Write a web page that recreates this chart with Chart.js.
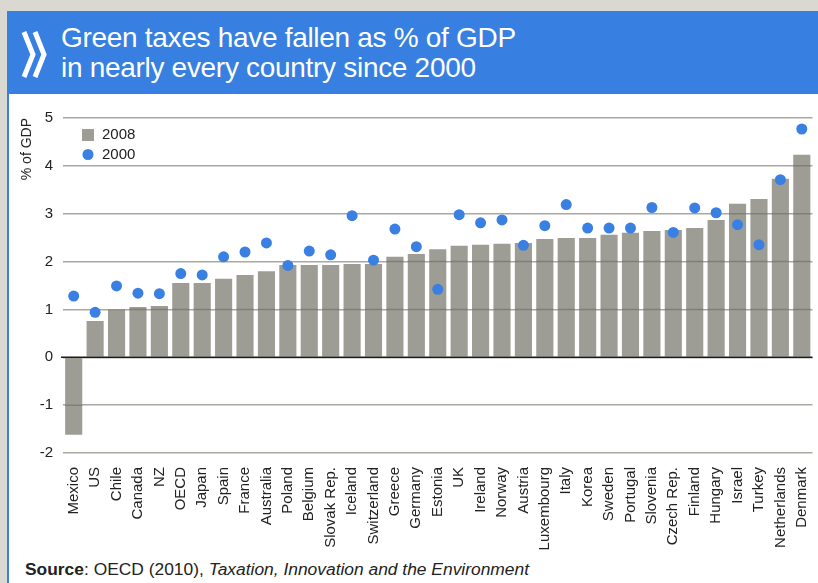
<!DOCTYPE html>
<html>
<head>
<meta charset="utf-8">
<script src="https://cdn.jsdelivr.net/npm/chart.js@4"></script>
<style>
  html, body { margin:0; padding:0; }
  body { width:818px; height:583px; background:#d9d9d1; position:relative; overflow:hidden; font-family:"Liberation Sans", Arial, sans-serif; }
  #panel { position:absolute; left:7px; top:94px; width:811px; height:489px; background:#fff; border-left:2px solid #3a80e2; box-sizing:border-box; }
  #header { position:absolute; left:7px; top:11px; width:811px; height:83px; background:#377fe0; }
  #header svg { position:absolute; left:0; top:0; }
  #title { position:absolute; left:54px; top:12px; color:#fff; font-size:28px; line-height:30px; letter-spacing:-0.3px; }
  #chartbox { position:absolute; left:9px; top:95px; width:809px; height:460px; }
  #source { position:absolute; left:25px; top:559px; font-size:17.4px; color:#222; white-space:nowrap; }
</style>
</head>
<body>
<div id="header">
  <svg width="60" height="83">
    <polyline points="17,21 26,43.5 17,66" fill="none" stroke="#fff" stroke-width="5" stroke-linejoin="miter"/>
    <polyline points="28,21 37,43.5 28,66" fill="none" stroke="#fff" stroke-width="5" stroke-linejoin="miter"/>
  </svg>
  <div id="title">Green taxes have fallen as % of GDP<br>in nearly every country since 2000</div>
</div>
<div id="panel"></div>
<div id="chartbox"><canvas id="c" width="809" height="460"></canvas></div>
<div id="source"><b>Source</b>: OECD (2010), <i>Taxation, Innovation and the Environment</i></div>
<script>
const categories = ["Mexico","US","Chile","Canada","NZ","OECD","Japan","Spain","France","Australia","Poland","Belgium","Slovak Rep.","Iceland","Switzerland","Greece","Germany","Estonia","UK","Ireland","Norway","Austria","Luxembourg","Italy","Korea","Sweden","Portugal","Slovenia","Czech Rep.","Finland","Hungary","Israel","Turkey","Netherlands","Denmark"];
const values2008 = [-1.62,0.76,1.00,1.05,1.07,1.55,1.55,1.64,1.72,1.80,1.93,1.93,1.93,1.95,1.95,2.10,2.16,2.26,2.33,2.35,2.37,2.39,2.47,2.49,2.49,2.56,2.60,2.64,2.66,2.70,2.87,3.21,3.31,3.73,4.23];
const values2000 = [1.28,0.94,1.49,1.34,1.33,1.75,1.72,2.10,2.20,2.39,1.92,2.22,2.14,2.96,2.03,2.68,2.31,1.42,2.98,2.81,2.87,2.34,2.75,3.19,2.70,2.70,2.70,3.13,2.61,3.12,3.02,2.77,2.35,3.71,4.77];
const seriesLabels = ["2008","2000"];
const yMin = -2, yMax = 5;

const BAR_COLOR = '#9e9d95';
const DOT_COLOR = '#3a80e2';
const GRID_COLOR = '#a9a8a1';
const FONT = '"Liberation Sans", Arial, sans-serif';

const overlayPlugin = {
  id: 'overlay',
  afterDatasetDraw(chart, args) {
    if (chart.data.datasets[args.index].type !== 'bar') return;
    const ctx = chart.ctx, y = chart.scales.y, area = chart.chartArea;
    const meta = args.meta;
    ctx.save();
    ctx.beginPath();
    meta.data.forEach(el => {
      const p = el.getProps(['x','y','base','width'], true);
      const top = Math.min(p.y, p.base), h = Math.abs(p.base - p.y);
      ctx.rect(p.x - p.width/2, top, p.width, h);
    });
    ctx.clip();
    ctx.strokeStyle = 'rgba(90,90,80,0.45)';
    ctx.lineWidth = 1.5;
    y.ticks.forEach(t => {
      if (t.value === 0) return;
      const py = y.getPixelForValue(t.value);
      ctx.beginPath(); ctx.moveTo(area.left, py); ctx.lineTo(area.right, py); ctx.stroke();
    });
    ctx.restore();
    ctx.save();
    ctx.strokeStyle = '#1a1a1a';
    ctx.lineWidth = 1.6;
    const z = y.getPixelForValue(0);
    ctx.beginPath(); ctx.moveTo(area.left - 2, z); ctx.lineTo(area.right, z); ctx.stroke();
    ctx.restore();
  }
};

const legendPlugin = {
  id: 'customLegend',
  afterDraw(chart) {
    const ctx = chart.ctx;
    const bar = chart.data.datasets.find(d => d.type === 'bar');
    const dot = chart.data.datasets.find(d => d.type === 'line');
    ctx.save();
    ctx.font = '15px ' + FONT;
    ctx.textBaseline = 'middle';
    ctx.fillStyle = bar.backgroundColor;
    ctx.fillRect(73, 34, 12, 12);
    ctx.fillStyle = '#222';
    ctx.fillText(bar.label, 93, 40);
    ctx.fillStyle = dot.pointBackgroundColor;
    ctx.beginPath(); ctx.arc(79, 59.5, 5.5, 0, Math.PI*2); ctx.fill();
    ctx.fillStyle = '#222';
    ctx.fillText(dot.label, 93, 60);
    ctx.restore();
  }
};

new Chart(document.getElementById('c'), {
  data: {
    labels: categories,
    datasets: [
      { type:'line', label: seriesLabels[1], data: values2000, showLine:false,
        pointRadius:5.5, pointHoverRadius:5.5, pointBackgroundColor: DOT_COLOR, pointBorderWidth:0, order:0 },
      { type:'bar', label: seriesLabels[0], data: values2008, backgroundColor: BAR_COLOR,
        barPercentage:0.8, categoryPercentage:1, order:1 }
    ]
  },
  options: {
    responsive:false, animation:false,
    layout: { padding: { top:23, right:3, left:0, bottom:0 } },
    plugins: { legend: { display:false }, tooltip: { enabled:false } },
    scales: {
      x: {
        grid: { display:false, drawTicks:false }, border: { display:false },
        ticks: { autoSkip:false, maxRotation:90, minRotation:90, padding:14,
                 color:'#222', font:{ size:15, family: FONT } },
        afterFit(s) { s.height = 102; s.paddingRight = 0; s.paddingLeft = 0; }
      },
      y: {
        min: yMin, max: yMax,
        ticks: { stepSize:1, padding:10, color:'#222', font:{ size:15, family: FONT } },
        grid: { color: GRID_COLOR, lineWidth:1.5, drawTicks:false },
        border: { display:false },
        title: { display:true, text:'% of GDP', align:'end', color:'#222',
                 font:{ size:14, family: FONT }, padding:{ top:10, bottom:0 } },
        afterFit(s) { s.width = 54; }
      }
    }
  },
  plugins: [overlayPlugin, legendPlugin]
});
</script>
</body>
</html>
